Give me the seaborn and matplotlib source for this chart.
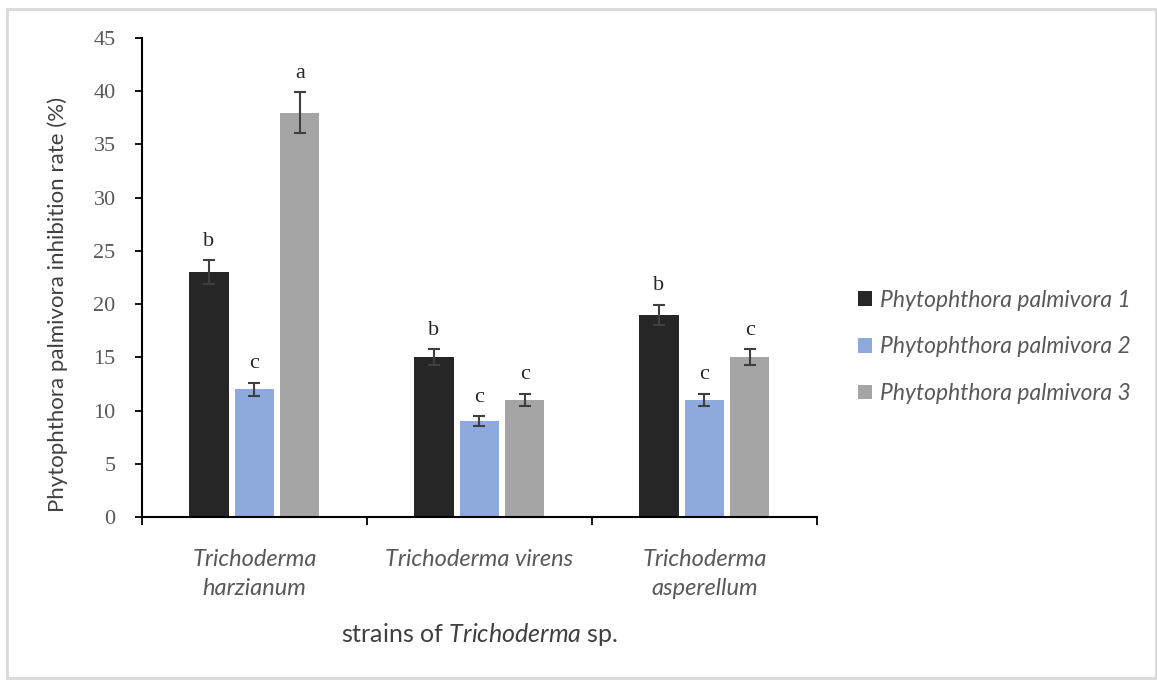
import matplotlib
matplotlib.use("Agg")
import matplotlib.pyplot as plt
from matplotlib.patches import Rectangle
import seaborn as sns
import pandas as pd

# Inhibition rates (%) per Trichoderma strain against three Phytophthora isolates
strains = ["Trichoderma\nharzianum", "Trichoderma virens", "Trichoderma\nasperellum"]
isolates = ["Phytophthora palmivora 1", "Phytophthora palmivora 2", "Phytophthora palmivora 3"]
rate_p1 = [23, 15, 19]
rate_p2 = [12, 9, 11]
rate_p3 = [38, 11, 15]
err_p1 = [1.1, 0.75, 0.95]
err_p2 = [0.6, 0.45, 0.55]
err_p3 = [1.9, 0.55, 0.75]
letters_p1 = ["b", "b", "b"]
letters_p2 = ["c", "c", "c"]
letters_p3 = ["a", "c", "c"]
y_ticks = [0, 5, 10, 15, 20, 25, 30, 35, 40, 45]

colors = ["#262626", "#8eaadc", "#a5a5a5"]
text_gray = "#595959"

rates = [rate_p1, rate_p2, rate_p3]
errs = [err_p1, err_p2, err_p3]
letters = [letters_p1, letters_p2, letters_p3]

rows = []
for iso, vals, es, ls in zip(isolates, rates, errs, letters):
    for s, v, e, l in zip(strains, vals, es, ls):
        rows.append({"strain": s, "isolate": iso, "rate": v, "err": e, "letter": l})
df = pd.DataFrame(rows)

sns.set_style("white")
plt.rcParams["font.family"] = ["Lato", "DejaVu Sans"]
plt.rcParams["mathtext.fontset"] = "custom"
plt.rcParams["mathtext.rm"] = "Lato"
plt.rcParams["mathtext.it"] = "Lato:italic"

fig = plt.figure(figsize=(11.57, 6.8), dpi=100)
ax = fig.add_axes([0.1227, 0.2397, 0.5834, 0.7044])

sns.barplot(data=df, x="strain", y="rate", hue="isolate", order=strains,
            hue_order=isolates, palette=colors, width=0.606, gap=0.14,
            errorbar=None, saturation=1, linewidth=0, ax=ax, legend=True)

# error bars and significance letters placed on the drawn bars
for container, iso in zip(ax.containers, isolates):
    sub = df[df["isolate"] == iso].set_index("strain").loc[strains]
    for patch, (_, r) in zip(container.patches, sub.iterrows()):
        xc = patch.get_x() + patch.get_width() / 2
        h = patch.get_height()
        ax.errorbar(xc, h, yerr=r["err"], color="#3f3f3f", lw=1.5,
                    capsize=4.6, capthick=1.5)
        ax.annotate(r["letter"], (xc, h + r["err"]), xytext=(0, 7),
                    textcoords="offset points", ha="center", va="bottom",
                    fontsize=16, family="Liberation Serif", color="#262626")

ax.set_xlim(-0.5, 2.5)
ax.set_ylim(0, 45)
ax.set_yticks(y_ticks)
ax.set_yticklabels([str(t) for t in y_ticks], family="Liberation Serif",
                   fontsize=16, color=text_gray)
ax.tick_params(axis="y", direction="out", length=5, width=1.3, color="black",
               left=True, pad=14)

ax.set_xticks([0, 1, 2])
ax.set_xticklabels(strains, fontstyle="italic", fontsize=17, color=text_gray,
                   linespacing=1.45, va="top")
ax.set_xticks([-0.5, 0.5, 1.5, 2.5], minor=True)
ax.tick_params(axis="x", which="major", length=0, pad=23)
ax.tick_params(axis="x", which="minor", direction="out", length=6, width=1.3,
               color="black", bottom=True)

for side in ["top", "right"]:
    ax.spines[side].set_visible(False)
for side in ["left", "bottom"]:
    ax.spines[side].set_color("black")
    ax.spines[side].set_linewidth(1.5)

ax.set_ylabel("Phytophthora palmivora inhibition rate (%)", fontsize=16,
              color="#404040")
ax.yaxis.set_label_coords(-0.11, 0.443)
ax.set_xlabel(r"strains of $\mathit{Trichoderma}$ sp.", fontsize=18,
              color="#404040", labelpad=16)

leg = ax.legend(loc="center left", bbox_to_anchor=(1.03, 0.355), frameon=False,
                fontsize=16.5, handlelength=0.6, handleheight=0.6,
                handletextpad=0.35, labelspacing=1.12)
for t in leg.get_texts():
    t.set_fontstyle("italic")
    t.set_color(text_gray)

fig.patches.append(Rectangle((7 / 1157, 2 / 680), 1149 / 1157, 669 / 680,
                             transform=fig.transFigure, fill=False,
                             edgecolor="#d9d9d9", lw=2))

fig.savefig("out.png", dpi=100, facecolor="white")
